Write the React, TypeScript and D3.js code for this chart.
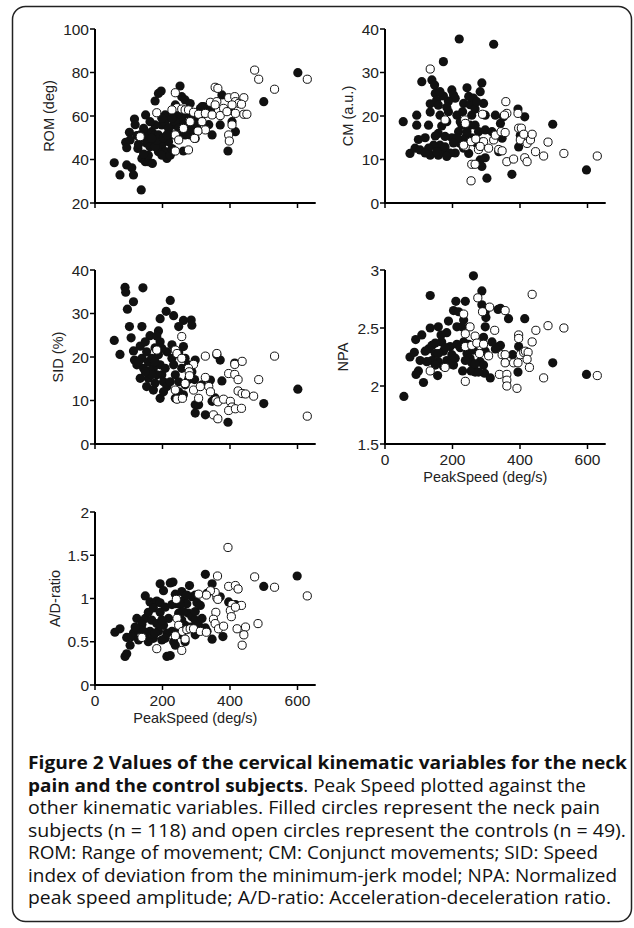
import React from 'react';
import * as d3 from 'd3';

const WIDTH = 634;
const HEIGHT = 928;

const X_TICKS = [0, 200, 400, 600];
const X_LABEL = 'PeakSpeed (deg/s)';

// [peak speed (deg/s), value]
const romFilled: [number, number][] = [
  [57, 38.5], [74, 32.9], [94, 37.5], [109, 36.2], [114, 32.9], [137, 26.0], [102, 52.5], [117, 58.6],
  [91, 47.9], [94, 45.4], [150, 60.5], [178, 66.9], [188, 70.4], [196, 71.5], [252, 73.8], [238, 65.1],
  [257, 68.9], [267, 67.4], [282, 65.7], [127, 45.1], [139, 40.5], [149, 39.0], [158, 39.0], [170, 38.2],
  [134, 51.3], [149, 49.7], [158, 52.0], [168, 52.8], [178, 51.3], [173, 48.2], [188, 51.3], [193, 48.2],
  [198, 55.9], [208, 56.6], [208, 60.5], [198, 46.7], [188, 43.6], [208, 43.6], [213, 40.5], [218, 48.2],
  [228, 51.3], [233, 55.9], [243, 60.5], [248, 57.4], [257, 58.9], [262, 55.9], [267, 51.3], [252, 52.8],
  [277, 55.9], [287, 54.3], [297, 52.8], [292, 57.4], [307, 58.9], [317, 60.5], [312, 63.5], [322, 64.3],
  [342, 62.8], [347, 51.3], [371, 55.9], [376, 69.7], [406, 57.4], [416, 52.8], [394, 43.9], [500, 66.6],
  [601, 79.9], [262, 43.9], [401, 62.6], [218, 54.3], [178, 55.9], [163, 57.4], [144, 54.3], [153, 47.5],
  [163, 45.9], [178, 45.9], [183, 49.0], [168, 49.7], [203, 50.0], [213, 51.3], [124, 51.0], [198, 42.0],
  [223, 42.0], [228, 45.0], [238, 57.4], [252, 62.0], [233, 63.0], [272, 61.0], [287, 60.5], [302, 56.0],
  [282, 51.3], [297, 49.7], [317, 64.3], [337, 56.0], [267, 53.0], [158, 42.0], [144, 42.5], [129, 47.0],
  [119, 56.0], [104, 49.0], [213, 59.0], [228, 59.0], [248, 54.3], [198, 59.0],
];
const romOpen: [number, number][] = [
  [473, 81.1], [485, 76.9], [532, 72.3], [629, 76.9], [356, 73.2], [364, 72.7], [238, 70.7], [183, 61.5],
  [243, 63.8], [257, 63.2], [267, 62.8], [277, 62.8], [292, 61.7], [307, 60.8], [327, 61.2], [342, 66.3],
  [361, 66.6], [356, 65.1], [381, 63.5], [396, 68.4], [414, 68.9], [441, 68.4], [416, 66.6], [426, 65.8],
  [434, 65.4], [406, 65.1], [416, 61.2], [441, 60.8], [450, 60.8], [327, 53.6], [305, 53.1], [295, 49.7],
  [238, 51.3], [238, 43.9], [277, 44.4], [406, 55.9], [396, 51.3], [398, 48.5], [134, 50.5], [262, 54.3],
  [347, 60.5], [371, 60.2], [228, 62.8], [282, 57.4], [391, 62.0], [317, 57.4], [248, 49.0],
];

const cmFilled: [number, number][] = [
  [54, 18.7], [74, 11.4], [89, 12.6], [94, 20.2], [94, 17.9], [99, 14.6], [109, 27.9], [119, 15.0],
  [104, 12.2], [134, 11.0], [134, 22.8], [134, 20.9], [139, 28.3], [147, 27.1], [149, 25.2], [153, 23.6],
  [158, 22.5], [163, 20.2], [158, 16.0], [163, 13.3], [173, 32.5], [158, 11.0], [168, 11.7], [178, 12.9],
  [183, 18.7], [188, 21.0], [198, 26.0], [203, 24.8], [208, 24.1], [213, 20.2], [218, 16.4], [220, 37.7],
  [208, 11.5], [193, 11.5], [223, 13.7], [228, 17.9], [233, 22.9], [243, 26.5], [248, 24.5], [252, 22.6],
  [257, 20.2], [262, 24.1], [267, 17.9], [277, 16.4], [282, 25.6], [287, 27.6], [292, 22.9], [297, 20.2],
  [297, 16.8], [272, 13.7], [282, 9.9], [287, 8.4], [302, 5.7], [322, 36.5], [327, 20.2], [347, 14.9],
  [351, 19.8], [376, 6.6], [394, 21.6], [414, 19.8], [396, 12.9], [401, 15.6], [497, 18.1], [597, 7.6],
  [230, 21.0], [238, 15.0], [168, 17.7], [149, 15.4], [144, 13.3], [129, 12.6], [183, 10.7], [198, 15.0],
  [188, 23.4], [173, 24.6], [119, 11.5], [257, 15.0], [317, 16.4], [342, 18.3], [248, 11.4], [213, 15.0],
  [233, 12.6], [267, 21.6], [287, 14.0], [337, 11.8], [297, 10.4], [178, 15.3], [203, 13.8], [153, 11.8],
  [223, 18.7], [243, 16.4], [129, 17.9], [163, 25.6], [183, 22.0], [252, 17.9], [272, 23.3],
];
const cmOpen: [number, number][] = [
  [134, 30.8], [178, 19.1], [236, 19.1], [238, 18.3], [238, 13.0], [255, 14.1], [257, 8.9], [267, 8.9],
  [255, 5.1], [269, 14.7], [277, 12.3], [292, 14.1], [307, 12.6], [322, 14.5], [327, 15.6], [337, 12.3],
  [344, 16.4], [356, 16.2], [358, 23.3], [361, 20.6], [354, 20.2], [361, 9.5], [381, 10.1], [394, 20.6],
  [396, 17.2], [404, 17.2], [401, 14.5], [411, 15.8], [421, 13.7], [431, 14.5], [436, 15.8], [414, 10.4],
  [421, 9.5], [446, 11.8], [470, 10.8], [483, 14.0], [530, 11.4], [629, 10.8], [289, 20.4], [233, 13.3],
  [347, 12.0], [282, 13.0],
];

const sidFilled: [number, number][] = [
  [89, 36.0], [91, 34.9], [142, 35.9], [114, 32.7], [96, 31.0], [223, 33.0], [211, 30.5], [233, 29.5],
  [193, 28.8], [262, 28.4], [285, 28.5], [287, 27.3], [248, 27.0], [188, 26.0], [139, 27.0], [102, 27.0],
  [107, 24.4], [57, 23.8], [74, 20.6], [163, 24.9], [134, 22.5], [149, 23.5], [117, 19.3], [124, 18.2],
  [139, 19.7], [153, 21.2], [158, 18.9], [168, 19.7], [173, 17.4], [178, 22.1], [188, 20.5], [193, 18.2],
  [198, 15.9], [203, 14.3], [183, 15.9], [158, 15.1], [134, 15.1], [153, 13.2], [173, 12.4], [193, 10.5],
  [208, 17.4], [213, 21.2], [228, 19.7], [233, 18.2], [238, 15.9], [248, 14.3], [257, 17.4], [262, 22.4],
  [267, 19.7], [277, 18.2], [287, 16.6], [297, 19.3], [295, 14.8], [267, 13.6], [248, 12.0], [297, 9.0],
  [307, 9.0], [297, 7.1], [327, 6.7], [342, 14.7], [347, 9.8], [361, 20.5], [371, 19.3], [376, 14.5],
  [414, 18.6], [394, 5.0], [500, 9.3], [601, 12.6], [163, 16.9], [144, 17.4], [178, 18.9], [168, 15.9],
  [213, 13.2], [223, 14.3], [262, 11.3], [228, 22.8], [193, 23.5], [203, 12.0], [178, 14.0], [149, 16.6],
  [129, 18.9], [238, 10.5], [277, 14.8], [317, 13.6], [356, 10.6], [248, 21.0], [198, 22.0], [183, 24.8],
  [114, 21.4],
];
const sidOpen: [number, number][] = [
  [257, 24.7], [183, 21.6], [238, 21.6], [243, 20.8], [257, 19.7], [292, 18.3], [277, 17.4], [279, 16.6],
  [280, 15.7], [327, 20.2], [361, 20.8], [414, 18.3], [436, 19.0], [396, 16.2], [414, 16.0], [424, 14.8],
  [485, 14.8], [532, 20.2], [267, 13.9], [292, 12.4], [238, 12.4], [243, 10.3], [259, 10.5], [307, 10.5],
  [312, 13.2], [337, 13.2], [342, 12.0], [358, 10.1], [364, 9.7], [381, 10.3], [401, 9.8], [406, 8.5],
  [396, 7.7], [416, 8.1], [434, 8.2], [424, 12.2], [436, 11.6], [446, 11.5], [470, 11.0], [351, 6.7],
  [364, 5.8], [629, 6.4], [327, 15.3],
];

const npaFilled: [number, number][] = [
  [56, 1.91], [262, 2.95], [287, 2.82], [134, 2.78], [210, 2.73], [238, 2.73], [287, 2.70], [342, 2.67],
  [335, 2.66], [366, 2.58], [414, 2.58], [297, 2.64], [299, 2.59], [203, 2.65], [218, 2.64], [188, 2.56],
  [158, 2.51], [134, 2.50], [109, 2.44], [91, 2.40], [74, 2.25], [87, 2.29], [104, 2.22], [99, 2.13],
  [92, 2.10], [114, 2.03], [156, 2.09], [129, 2.32], [139, 2.35], [149, 2.28], [158, 2.21], [168, 2.38],
  [173, 2.30], [183, 2.22], [193, 2.34], [198, 2.27], [203, 2.18], [213, 2.36], [223, 2.33], [228, 2.51],
  [233, 2.57], [230, 2.13], [243, 2.28], [252, 2.24], [257, 2.20], [267, 2.12], [282, 2.21], [292, 2.18],
  [295, 2.11], [292, 2.42], [312, 2.07], [337, 2.34], [342, 2.35], [378, 2.27], [396, 2.34], [394, 2.12],
  [497, 2.20], [597, 2.10], [255, 2.13], [277, 2.12], [248, 2.36], [262, 2.31], [183, 2.46], [166, 2.44],
  [149, 2.37], [119, 2.30], [139, 2.22], [173, 2.17], [193, 2.19], [208, 2.24], [149, 2.18], [124, 2.21],
  [178, 2.33], [238, 2.22], [327, 2.32], [297, 2.30], [213, 2.51], [317, 2.38], [158, 2.28], [267, 2.19],
  [233, 2.38], [297, 2.51],
];
const npaOpen: [number, number][] = [
  [436, 2.79], [275, 2.76], [310, 2.68], [289, 2.64], [356, 2.65], [233, 2.62], [252, 2.51], [267, 2.43],
  [238, 2.45], [238, 2.34], [257, 2.35], [272, 2.37], [292, 2.36], [280, 2.28], [307, 2.26], [325, 2.48],
  [396, 2.44], [396, 2.41], [447, 2.48], [483, 2.52], [530, 2.50], [436, 2.38], [347, 2.27], [356, 2.27],
  [381, 2.20], [394, 2.20], [356, 2.20], [401, 2.27], [411, 2.29], [416, 2.30], [424, 2.29], [421, 2.23],
  [428, 2.16], [339, 2.10], [361, 2.10], [361, 2.05], [361, 2.00], [391, 1.98], [470, 2.07], [629, 2.09],
  [238, 2.04], [178, 2.16], [134, 2.13],
];

const adFilled: [number, number][] = [
  [327, 1.28], [347, 1.17], [599, 1.26], [500, 1.14], [231, 1.19], [223, 1.18], [193, 1.17], [280, 1.15],
  [203, 1.09], [149, 1.03], [163, 0.96], [173, 0.93], [183, 0.97], [193, 0.95], [208, 0.90], [257, 1.08],
  [262, 0.98], [272, 0.94], [287, 1.02], [297, 1.04], [302, 0.95], [332, 1.06], [371, 1.02], [396, 0.96],
  [416, 0.93], [347, 0.53], [379, 0.56], [124, 0.77], [149, 0.77], [168, 0.75], [139, 0.70], [59, 0.61],
  [74, 0.65], [94, 0.55], [104, 0.46], [89, 0.33], [94, 0.36], [114, 0.60], [134, 0.64], [149, 0.56],
  [163, 0.62], [173, 0.54], [188, 0.62], [198, 0.52], [203, 0.69], [183, 0.71], [213, 0.33], [223, 0.34],
  [233, 0.50], [238, 0.46], [228, 0.62], [218, 0.77], [238, 0.94], [248, 0.83], [257, 0.75], [267, 0.69],
  [277, 0.83], [287, 0.79], [297, 0.75], [307, 0.69], [317, 0.77], [327, 0.66], [332, 0.62], [297, 0.58],
  [267, 0.50], [248, 0.64], [213, 0.60], [158, 0.84], [173, 0.89], [193, 0.84], [109, 0.56], [129, 0.52],
  [119, 0.67], [178, 0.60], [208, 0.54], [257, 0.58], [282, 0.67], [297, 0.85], [312, 0.92], [238, 1.05],
  [272, 1.04], [198, 0.75], [158, 0.50], [144, 0.62], [228, 0.93], [252, 0.93], [262, 0.85],
];
const adOpen: [number, number][] = [
  [394, 1.59], [363, 1.26], [473, 1.25], [532, 1.13], [629, 1.03], [396, 1.14], [416, 1.15], [424, 1.11],
  [406, 0.93], [401, 0.86], [404, 0.79], [434, 0.92], [416, 0.90], [361, 1.01], [356, 1.07], [342, 1.09],
  [330, 1.04], [307, 1.05], [364, 0.99], [358, 0.84], [351, 0.76], [356, 0.71], [366, 0.65], [381, 0.68],
  [421, 0.65], [446, 0.67], [483, 0.71], [441, 0.58], [436, 0.46], [241, 0.99], [243, 0.77], [248, 0.69],
  [259, 0.62], [272, 0.64], [282, 0.65], [292, 0.65], [312, 0.62], [330, 0.61], [238, 0.57], [267, 0.53],
  [257, 0.40], [183, 0.42], [139, 0.55],
];

const captionLines: { bold: string; normal: string; end: number }[] = [
  { bold: 'Figure 2 Values of the cervical kinematic variables for the neck', normal: '', end: 627 },
  { bold: 'pain and the control subjects', normal: '. Peak Speed plotted against the', end: 586 },
  { bold: '', normal: 'other kinematic variables. Filled circles represent the neck pain', end: 600 },
  { bold: '', normal: 'subjects (n = 118) and open circles represent the controls (n = 49).', end: 626 },
  { bold: '', normal: 'ROM: Range of movement; CM: Conjunct movements; SID: Speed', end: 598 },
  { bold: '', normal: 'index of deviation from the minimum-jerk model; NPA: Normalized', end: 617 },
  { bold: '', normal: 'peak speed amplitude; A/D-ratio: Acceleration-deceleration ratio.', end: 611 },
];

const AXIS_FONT = "'Liberation Sans', Arial, sans-serif";

type PanelProps = {
  left: number;
  top: number;
  bottom: number;
  yDomain: [number, number];
  yTicks: number[];
  yLabel: string;
  labelX: number;
  filled: [number, number][];
  open: [number, number][];
  xLabels: boolean;
};

function Panel({ left, top, bottom, yDomain, yTicks, yLabel, labelX, filled, open, xLabels }: PanelProps) {
  const x = d3.scaleLinear().domain([0, 600]).range([left, left + 202.5]);
  const y = d3.scaleLinear().domain(yDomain).range([bottom, top]);
  const xEnd = x(654);
  const r = 4.6;

  return (
    <g>
      {filled.map((d, i) => (
        <circle key={'f' + i} cx={x(d[0])} cy={y(d[1])} r={r} fill="#111" />
      ))}
      {open.map((d, i) => (
        <circle key={'o' + i} cx={x(d[0])} cy={y(d[1])} r={r - 0.5} fill="#fff" stroke="#111" strokeWidth={1} />
      ))}

      <line x1={left} x2={left} y1={top} y2={bottom} stroke="#000" strokeWidth={2} />
      <line x1={left - 1} x2={xEnd} y1={bottom} y2={bottom} stroke="#000" strokeWidth={2} />

      {yTicks.map(t => (
        <g key={'y' + t}>
          <line x1={left - 5} x2={left} y1={y(t)} y2={y(t)} stroke="#000" strokeWidth={1.5} />
          <text x={left - 6} y={y(t)} dy="0.36em" textAnchor="end" fontSize={15.5} fontFamily={AXIS_FONT} fill="#222">
            {String(t)}
          </text>
        </g>
      ))}
      {X_TICKS.map(t => (
        <g key={'x' + t}>
          <line x1={x(t)} x2={x(t)} y1={bottom} y2={bottom + 5} stroke="#000" strokeWidth={1.5} />
          {xLabels && (
            <text x={x(t)} y={bottom + 21} textAnchor="middle" fontSize={15.5} fontFamily={AXIS_FONT} fill="#222">
              {String(t)}
            </text>
          )}
        </g>
      ))}

      <text
        transform={`translate(${labelX},${(top + bottom) / 2}) rotate(-90)`}
        dy="0.36em"
        textAnchor="middle"
        fontSize={14.5}
        fontFamily={AXIS_FONT}
        fill="#222"
      >
        {yLabel}
      </text>
      {xLabels && (
        <text x={(left + xEnd) / 2 - 10} y={bottom + 38} textAnchor="middle" fontSize={14.5} fontFamily={AXIS_FONT} fill="#222">
          {X_LABEL}
        </text>
      )}
    </g>
  );
}

export default function App() {
  const captionX = 28;
  return (
    <svg
      xmlns="http://www.w3.org/2000/svg"
      width={WIDTH}
      height={HEIGHT}
      viewBox={`0 0 ${WIDTH} ${HEIGHT}`}
      style={{ position: 'absolute', left: 0, top: 0, background: '#fff' }}
    >
      <rect x={12.5} y={6.5} width={619} height={915} rx={13} fill="#fff" stroke="#222" strokeWidth={1.5} />

      <Panel left={95} top={29} bottom={203} yDomain={[20, 100]} yTicks={[20, 40, 60, 80, 100]}
        yLabel="ROM (deg)" labelX={49} filled={romFilled} open={romOpen} xLabels={false} />
      <Panel left={385} top={29} bottom={203} yDomain={[0, 40]} yTicks={[0, 10, 20, 30, 40]}
        yLabel="CM (a.u.)" labelX={348} filled={cmFilled} open={cmOpen} xLabels={false} />
      <Panel left={95} top={270} bottom={444} yDomain={[0, 40]} yTicks={[0, 10, 20, 30, 40]}
        yLabel="SID (%)" labelX={58} filled={sidFilled} open={sidOpen} xLabels={false} />
      <Panel left={385} top={270} bottom={444} yDomain={[1.5, 3]} yTicks={[1.5, 2, 2.5, 3]}
        yLabel="NPA" labelX={343} filled={npaFilled} open={npaOpen} xLabels={true} />
      <Panel left={95} top={512} bottom={685} yDomain={[0, 2]} yTicks={[0, 0.5, 1, 1.5, 2]}
        yLabel="A/D-ratio" labelX={55} filled={adFilled} open={adOpen} xLabels={true} />

      {captionLines.map((line, i) => (
        <text
          key={i}
          x={captionX}
          y={769 + i * 22.5}
          fontSize={18}
          fontFamily="'Open Sans', 'Noto Sans', sans-serif"
          fill="#111"
          textLength={line.end - captionX}
          lengthAdjust="spacingAndGlyphs"
        >
          {line.bold && <tspan fontWeight="bold">{line.bold}</tspan>}
          {line.normal && <tspan>{line.normal}</tspan>}
        </text>
      ))}
    </svg>
  );
}
